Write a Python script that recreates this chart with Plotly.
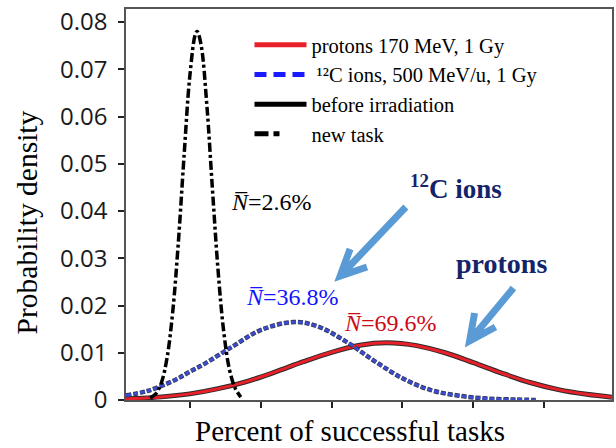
import plotly.graph_objects as go

# ---- distributions of the share of successful tasks ----
# new task (sharp peak near zero)
task_x = [-14, -12, -10, -8, -6, -4, -2, 0, 2, 2.6, 4, 6, 8, 10, 12, 14, 16, 18]
task_y = [0.0004, 0.0013, 0.0037, 0.0090, 0.0188, 0.0337, 0.0519, 0.0685, 0.0775,
          0.0780, 0.0751, 0.0625, 0.0445, 0.0272, 0.0143, 0.0064, 0.0025, 0.0006]

# 12C ions, 500 MeV/u, 1 Gy
carbon_x = [-22.5, -15, -5, 0, 5, 15, 25, 36.8, 45, 55, 65, 75, 85, 95, 105, 115, 122]
carbon_y = [0.0010, 0.0019, 0.0043, 0.0060, 0.0076, 0.0113, 0.0148, 0.0165, 0.0156,
            0.0124, 0.0083, 0.0046, 0.0021, 0.0009, 0.0003, 0.0001, 0.0000]

# protons 170 MeV, 1 Gy
proton_x = [-22.5, -10, 0, 10, 20, 30, 40, 50, 60, 69.6, 80, 90, 100, 110, 120, 130, 140, 148.9]
proton_y = [0.00025, 0.00066, 0.0013, 0.0024, 0.0039, 0.0059, 0.0081, 0.0101, 0.0116,
            0.0121, 0.0115, 0.0100, 0.0079, 0.0057, 0.0037, 0.0022, 0.0012, 0.0006]

# mean values written next to each curve
mean_labels = ["2.6%", "36.8%", "69.6%"]

y_ticks = [0, 0.01, 0.02, 0.03, 0.04, 0.05, 0.06, 0.07, 0.08]
y_tick_text = ["0", "0.01", "0.02", "0.03", "0.04", "0.05", "0.06", "0.07", "0.08"]
x_ticks = [0, 25, 50, 75, 100, 125]

X_RANGE = [-22.5, 148.9]
Y_RANGE = [0, 0.08275]

SERIF = "Liberation Serif"
RED = "#e8202a"
BLUE = "#3b4ccc"
NAVY = "#14246a"
ARROW = "#5b9bd5"

fig = go.Figure()

# curves (a dark underlay gives each coloured line its outline)
fig.add_trace(go.Scatter(x=proton_x, y=proton_y, mode="lines", line_shape="spline",
                         line=dict(color="#2a2a2a", width=5), showlegend=False, hoverinfo="skip"))
fig.add_trace(go.Scatter(x=proton_x, y=proton_y, mode="lines", line_shape="spline",
                         line=dict(color=RED, width=3), showlegend=False))
fig.add_trace(go.Scatter(x=carbon_x, y=carbon_y, mode="lines", line_shape="spline",
                         line=dict(color="#333344", width=4.5, dash="5px,2px"),
                         showlegend=False, hoverinfo="skip"))
fig.add_trace(go.Scatter(x=carbon_x, y=carbon_y, mode="lines", line_shape="spline",
                         line=dict(color=BLUE, width=3, dash="5px,2px"), showlegend=False))
fig.add_trace(go.Scatter(x=task_x, y=task_y, mode="lines", line_shape="spline",
                         line=dict(color="black", width=3.5, dash="9px,3px,3px,3px"),
                         showlegend=False))

# legend entries
fig.add_trace(go.Scatter(x=[None], y=[None], mode="lines", name="protons 170 MeV, 1 Gy",
                         line=dict(color=RED, width=5)))
fig.add_trace(go.Scatter(x=[None], y=[None], mode="lines",
                         name=" \u00b9\u00b2C ions, 500 MeV/u, 1 Gy",
                         line=dict(color="#1a1aff", width=5, dash="12px,7px")))
fig.add_trace(go.Scatter(x=[None], y=[None], mode="lines", name="before irradiation",
                         line=dict(color="black", width=5)))
fig.add_trace(go.Scatter(x=[None], y=[None], mode="lines", name="new task",
                         line=dict(color="black", width=5, dash="14px,5px,6px,30px")))

# plot-area geometry used to place the arrows and labels in pixel terms
W, H = 616, 448
L, R, T, B = 126, 2, 9, 48


def to_paper(px, py):
    return (px - L) / (W - L - R), (H - B - py) / (H - T - B)


def arrow_path(tail, tip, barb1, barb2):
    pts = [to_paper(*p) for p in (tail, tip, barb1, barb2)]
    (x0, y0), (x1, y1), (x2, y2), (x3, y3) = pts
    return (f"M{x0},{y0} L{x1},{y1} M{x2},{y2} L{x1},{y1} L{x3},{y3}")


def label(px, py, text, size, color, angle=0):
    x, y = to_paper(px, py)
    return dict(x=x, y=y, xref="paper", yref="paper", xanchor="center", yanchor="middle",
                text=text, showarrow=False, textangle=angle,
                font=dict(family=SERIF, size=size, color=color))


shapes = [
    dict(type="path", xref="paper", yref="paper",
         path=arrow_path((407, 207), (341, 276), (351, 249), (368, 267)),
         line=dict(color=ARROW, width=7)),
    dict(type="path", xref="paper", yref="paper",
         path=arrow_path((515, 288), (471, 341), (476, 313), (497, 327)),
         line=dict(color=ARROW, width=7)),
]

annotations = [
    label(272, 202, "<i>N\u0305</i>=" + mean_labels[0], 24, "black"),
    label(293, 297, "<i>N\u0305</i>=" + mean_labels[1], 24, "#1414ff"),
    label(392, 323, "<i>N\u0305</i>=" + mean_labels[2], 24, "#cc0a14"),
    label(457, 187, "<b><sup>12</sup>C ions</b>", 27, NAVY),
    label(503, 263, "<b>protons</b>", 28, NAVY),
    # axis titles
    label(351, 431, "Percent of successful tasks", 29, "black"),
    label(27, 222, "Probability density", 29.5, "black", angle=-90),
]

fig.update_layout(
    width=W, height=H,
    margin=dict(l=L, r=R, t=T, b=B),
    paper_bgcolor="white", plot_bgcolor="white",
    shapes=shapes, annotations=annotations,
    legend=dict(x=to_paper(250, 0)[0], y=to_paper(0, 25)[1], xanchor="left", yanchor="top",
                bgcolor="rgba(0,0,0,0)", font=dict(family=SERIF, size=20.5, color="black"),
                tracegroupgap=0, itemwidth=52),
    xaxis=dict(range=X_RANGE, tickvals=x_ticks, showticklabels=False, ticks="outside",
               ticklen=6, tickwidth=1.5, tickcolor="#222", showline=True, linecolor="#555",
               linewidth=1.5, mirror=True, showgrid=False, zeroline=False),
    yaxis=dict(range=Y_RANGE, tickvals=y_ticks, ticktext=y_tick_text, ticks="outside",
               ticklen=6, tickwidth=1.5, tickcolor="#222", showline=True, linecolor="#555",
               linewidth=1.5, mirror=True, showgrid=False, zeroline=False,
               ticklabelstandoff=6,
               tickfont=dict(family="Open Sans", size=24, color="#1a1a1a")),
)

fig.write_html("out.html")
